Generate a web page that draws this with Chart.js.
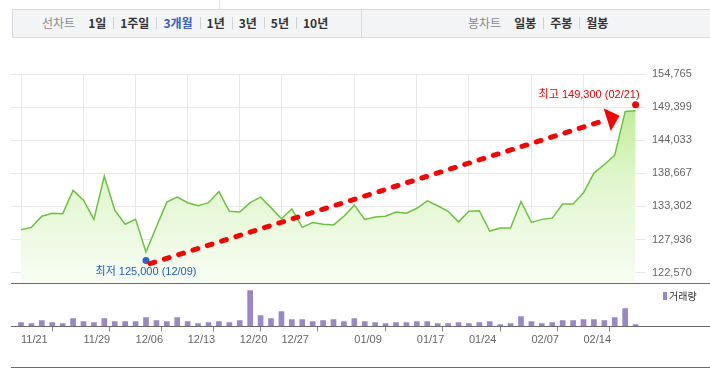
<!DOCTYPE html>
<html><head><meta charset="utf-8">
<script src="https://cdn.jsdelivr.net/npm/chart.js@4.4.1/dist/chart.umd.min.js"></script>
<style>
html,body{margin:0;padding:0;background:#fff;width:710px;height:368px;overflow:hidden;font-family:"Liberation Sans","Noto Sans CJK KR",sans-serif;}
#wrap{position:relative;width:710px;height:368px;}
#tb{position:absolute;left:12px;top:9px;width:698px;height:29px;background:#f3f4f6;border:1px solid #d9dbe0;border-right:none;box-sizing:border-box;}
#tbdiv{position:absolute;left:361px;top:9px;width:1px;height:29px;background:#d9dbe0;}
#topv{position:absolute;left:219px;top:0;width:1px;height:9px;background:#e2e2e2;}
.grp{position:absolute;top:8px;height:29px;display:flex;align-items:center;font-size:12px;font-family:"Noto Sans CJK KR","Liberation Sans",sans-serif;white-space:nowrap;}
.lab{color:#8a8a8a;margin-right:13px;}
.it{font-weight:bold;color:#333;line-height:12px;}
.sep{margin-left:7px;padding-left:6px;border-left:1px solid #cfd1d5;}
.on{color:#3b5cc4;}
canvas{position:absolute;left:0;}
.hl{position:absolute;left:11px;width:699px;height:1px;background:#6a6a6a;}
#leg{position:absolute;left:663px;top:292px;width:4px;height:8px;background:#9b86c9;}
#legt{position:absolute;left:669px;top:289px;font-size:10px;line-height:14px;color:#333;font-family:"Noto Sans CJK KR",sans-serif;}
</style></head>
<body><div id="wrap">
<div id="topv"></div>
<div id="tb"></div>
<div id="tbdiv"></div>
<div class="grp" style="left:42px"><span class="lab">선차트</span><span class="it">1일</span><span class="it sep">1주일</span><span class="it sep on">3개월</span><span class="it sep">1년</span><span class="it sep">3년</span><span class="it sep">5년</span><span class="it sep">10년</span></div>
<div class="grp" style="left:468px"><span class="lab">봉차트</span><span class="it">일봉</span><span class="it sep">주봉</span><span class="it sep">월봉</span></div>
<canvas id="price" width="710" height="283" style="top:0"></canvas>
<canvas id="vol" width="710" height="85" style="top:283px"></canvas>
<div class="hl" style="top:283px"></div>
<div class="hl" style="top:326px"></div>
<div class="hl" style="top:367px"></div>
<div id="leg"></div><div id="legt">거래량</div>
</div>
<script>
// ---- data ----
const priceTicks = [154765, 149399, 144033, 138667, 133302, 127936, 122570];
const tickIdx  = [0, 6, 11, 16, 21, 25, 32, 38, 43, 49, 54];
const tickText = ['11/21','11/29','12/06','12/13','12/20','12/27','01/09','01/17','01/24','02/07','02/14'];
const closes = [
  129500,129900,131700,132200,132100,135900,134300,131200,138200,132700,
  130400,131200,125900,130000,134000,134800,133900,133400,133900,135700,
  132500,132400,133900,134800,133100,131300,132900,129900,130700,130400,
  130300,131700,133500,131200,131600,131700,132400,132200,133000,134200,
  133400,132500,130800,132500,132600,129300,129800,129800,134100,130700,
  131200,131400,133700,133700,135500,138700,140100,141600,148700,148800
];
const volumes = [
  100,75,150,100,75,200,125,100,200,125,
  125,125,225,150,125,225,125,75,100,125,
  100,150,900,275,200,375,175,175,125,150,
  175,125,200,125,100,75,100,100,125,125,
  75,75,100,75,100,125,50,75,250,125,
  75,100,150,150,175,175,150,225,450,50
];
const highPrice = 149300, highDate = '02/21';
const lowPrice  = 125000, lowDate  = '12/09';

const FONT = '"Liberation Sans","Noto Sans CJK KR",sans-serif';
const xMin = -0.96, xMax = 60;

function zeroPad(s){ s.paddingTop = 0; s.paddingBottom = 0; s.paddingLeft = 0; s.paddingRight = 0; }

const annot = {
  id: 'annot',
  afterDatasetsDraw(chart) {
    const {ctx, scales: {x, y}} = chart;
    const hi = closes.indexOf(Math.max(...closes));
    const lo = closes.indexOf(Math.min(...closes));
    const hx = x.getPixelForValue(hi), hy = y.getPixelForValue(highPrice) - 3;
    const lx = x.getPixelForValue(lo), ly = y.getPixelForValue(lowPrice) + 3;
    ctx.save();
    // dots
    ctx.fillStyle = '#2f62d0';
    ctx.beginPath(); ctx.arc(lx, ly, 3.5, 0, Math.PI * 2); ctx.fill();
    ctx.fillStyle = '#ff0000';
    ctx.beginPath(); ctx.arc(hx, hy, 3.5, 0, Math.PI * 2); ctx.fill();
    // arrow
    const sx = lx + 4, sy = ly + 3, tx = hx - 16, ty = hy + 11;
    const dx = tx - sx, dy = ty - sy, len = Math.hypot(dx, dy), ux = dx / len, uy = dy / len;
    const bx = tx - 13 * ux, by = ty - 13 * uy;
    ctx.strokeStyle = '#ff0000'; ctx.lineWidth = 5; ctx.lineCap = 'round';
    ctx.setLineDash([5, 10]);
    ctx.beginPath(); ctx.moveTo(sx, sy); ctx.lineTo(bx, by); ctx.stroke();
    ctx.setLineDash([]);
    ctx.beginPath(); ctx.moveTo(tx, ty);
    ctx.lineTo(bx - 12 * uy, by + 12 * ux);
    ctx.lineTo(bx + 12 * uy, by - 12 * ux);
    ctx.closePath(); ctx.fill();
    // texts
    ctx.font = '11px ' + FONT;
    ctx.textBaseline = 'middle';
    ctx.textAlign = 'right';
    ctx.fillStyle = '#f00000';
    ctx.fillText('최고 ' + highPrice.toLocaleString('en-US') + ' (' + highDate + ')', hx + 4, hy - 10);
    ctx.textAlign = 'center';
    ctx.fillStyle = '#1f5ec8';
    ctx.fillText('최저 ' + lowPrice.toLocaleString('en-US') + ' (' + lowDate + ')', lx, ly + 11);
    ctx.restore();
  }
};

new Chart(document.getElementById('price').getContext('2d'), {
  type: 'line',
  data: { datasets: [{
    data: closes.map((v, i) => ({x: i, y: v})),
    borderColor: '#6cc23e', borderWidth: 1.5, pointRadius: 0, tension: 0,
    fill: 'start',
    backgroundColor: (c) => {
      const {ctx, chartArea} = c.chart;
      if (!chartArea) return 'rgba(0,0,0,0)';
      const g = ctx.createLinearGradient(0, chartArea.top, 0, chartArea.bottom);
      g.addColorStop(0, '#b0e87e');
      g.addColorStop(0.5, '#e0f6cd');
      g.addColorStop(1, '#f8fdf4');
      return g;
    }
  }]},
  options: {
    animation: false, responsive: false, devicePixelRatio: 1,
    layout: {padding: {left: 11, top: 74, right: 0, bottom: 0}},
    plugins: {legend: {display: false}, tooltip: {enabled: false}},
    scales: {
      x: {
        type: 'linear', min: xMin, max: xMax,
        afterBuildTicks: s => { s.ticks = tickIdx.map(v => ({value: v})); },
        ticks: {display: false},
        grid: {color: '#e8e8e8', drawTicks: false},
        border: {display: false},
        afterFit: s => { s.height = 0; zeroPad(s); }
      },
      y: {
        position: 'right', min: 120884, max: 154765,
        afterBuildTicks: s => { s.ticks = priceTicks.map(v => ({value: v})); },
        ticks: {font: {family: FONT, size: 11}, color: '#666', padding: 6,
                callback: v => Number(v).toLocaleString('en-US')},
        grid: {color: '#e8e8e8', drawTicks: false},
        border: {display: false},
        afterFit: s => { s.width = 64; zeroPad(s); }
      }
    }
  },
  plugins: [annot]
});

new Chart(document.getElementById('vol').getContext('2d'), {
  type: 'bar',
  data: { datasets: [{
    data: volumes.map((v, i) => ({x: i, y: v})),
    backgroundColor: '#9b86c9', barThickness: 5
  }]},
  options: {
    animation: false, responsive: false, devicePixelRatio: 1,
    layout: {padding: {left: 11, top: 0, right: 64, bottom: 0}},
    plugins: {legend: {display: false}, tooltip: {enabled: false}},
    scales: {
      x: {
        type: 'linear', min: xMin, max: xMax, offset: false,
        afterBuildTicks: s => { s.ticks = tickIdx.map(v => ({value: v})); },
        ticks: {align: 'start', autoSkip: false, maxRotation: 0, minRotation: 0,
                font: {family: FONT, size: 11}, color: '#666', padding: 2,
                callback: (v) => tickText[tickIdx.indexOf(v)]},
        grid: {drawOnChartArea: false, drawTicks: true, tickLength: 5, color: '#8a8a8a'},
        border: {display: false},
        afterFit: s => { s.height = 41.5; zeroPad(s); }
      },
      y: {
        display: false, min: 0, max: 1087
      }
    }
  }
});
</script>
</body></html>
